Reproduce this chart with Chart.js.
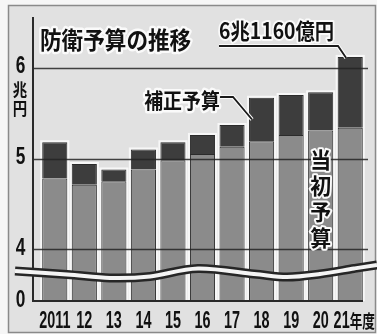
<!DOCTYPE html>
<html>
<head>
<meta charset="utf-8">
<script src="https://cdn.jsdelivr.net/npm/chart.js@4/dist/chart.umd.min.js"></script>
<style>
  html, body { margin: 0; padding: 0; background: #fff; }
  canvas { display: block; }
</style>
</head>
<body>
<canvas id="chart" width="377" height="334"></canvas>
<script>
// 防衛予算の推移 (兆円)
const years = ['2011', '12', '13', '14', '15', '16', '17', '18', '19', '20', '21年度'];
const initialBudget = [4.78, 4.71, 4.75, 4.88, 4.98, 5.05, 5.13, 5.19, 5.26, 5.31, 5.34];
const supplementaryBudget = [0.40, 0.23, 0.13, 0.22, 0.20, 0.21, 0.24, 0.48, 0.44, 0.42, 0.78];
const yTickValues = [4, 5, 6];
const yBreakLabel = '0';
const totalLabel = '6兆1160億円';

const yMin = 3.43, yMax = 6.56;
const CJK = "'Noto Sans CJK JP', sans-serif";
const NUM = "'Liberation Sans', Arial, sans-serif";

function haloText(ctx, text, x, y, font, sx, align, halo) {
  ctx.save();
  ctx.translate(x, y);
  ctx.scale(sx, 1);
  ctx.font = font;
  ctx.textAlign = align;
  ctx.textBaseline = 'middle';
  ctx.lineJoin = 'round';
  if (halo) {
    ctx.strokeStyle = '#fafafa';
    ctx.lineWidth = halo;
    ctx.strokeText(text, 0, 0);
  }
  ctx.fillStyle = '#111';
  ctx.fillText(text, 0, 0);
  ctx.restore();
}

// 波線 (省略記号)
function wave(ctx, pts) {
  ctx.beginPath();
  ctx.moveTo(pts[0][0], pts[0][1]);
  for (let i = 0; i < pts.length - 1; i++) {
    const p0 = pts[Math.max(i - 1, 0)], p1 = pts[i], p2 = pts[i + 1], p3 = pts[Math.min(i + 2, pts.length - 1)];
    ctx.bezierCurveTo(p1[0] + (p2[0] - p0[0]) / 6, p1[1] + (p2[1] - p0[1]) / 6,
                      p2[0] - (p3[0] - p1[0]) / 6, p2[1] - (p3[1] - p1[1]) / 6, p2[0], p2[1]);
  }
}

const decor = {
  id: 'decor',
  beforeDraw(chart) {
    const ctx = chart.ctx;
    ctx.save();
    ctx.fillStyle = '#f6f6f6';
    ctx.fillRect(0, 0, chart.width, chart.height);
    ctx.fillStyle = '#e1e1e1';
    ctx.fillRect(8, 5, 368, 328);
    ctx.strokeStyle = '#8a8a8a';
    ctx.lineWidth = 1.5;
    ctx.strokeRect(8.5, 5.5, 367, 327);
    ctx.restore();
  },
  beforeDatasetsDraw(chart) {
    // 棒の白いふち
    const ctx = chart.ctx, area = chart.chartArea;
    const base = chart.getDatasetMeta(0).data, top = chart.getDatasetMeta(1).data;
    ctx.save();
    ctx.fillStyle = '#f7f7f7';
    base.forEach((el, i) => {
      const t = top[i];
      ctx.fillRect(el.x - el.width / 2 - 2, t.y - 2, el.width + 4, area.bottom - t.y + 2);
    });
    ctx.restore();
  },
  afterDatasetsDraw(chart) {
    const ctx = chart.ctx, area = chart.chartArea;
    const y = chart.scales.y, x = chart.scales.x;
    const axisX = 33;
    ctx.save();
    // 目盛線
    ctx.strokeStyle = 'rgba(35,35,35,0.85)';
    ctx.lineWidth = 1.5;
    yTickValues.forEach(v => {
      const py = Math.round(y.getPixelForValue(v)) + 0.5;
      ctx.beginPath();
      ctx.moveTo(axisX, py);
      ctx.lineTo(368, py);
      ctx.stroke();
    });
    // 軸
    ctx.strokeStyle = '#2a2a2a';
    ctx.lineWidth = 2;
    ctx.beginPath();
    ctx.moveTo(axisX, area.top);
    ctx.lineTo(axisX, area.bottom);
    ctx.lineTo(363, area.bottom);
    ctx.stroke();
    // 波線
    const pts = [[15, 271], [67, 274.5], [110, 278], [150, 276.5], [198, 268.5], [254, 274],
                 [287, 277], [320, 274], [354, 268.5], [377, 265]];
    ctx.lineCap = 'butt';
    wave(ctx, pts);
    ctx.strokeStyle = '#262626';
    ctx.lineWidth = 9;
    ctx.stroke();
    wave(ctx, pts);
    ctx.strokeStyle = '#f4f4f4';
    ctx.lineWidth = 4;
    ctx.stroke();
    ctx.restore();

    // y軸ラベル
    [yMin].concat(yTickValues).forEach(v => {
      const py = y.getPixelForValue(v) - 1;
      haloText(ctx, v === yMin ? yBreakLabel : String(v), 20.5, py, 'bold 24px ' + NUM, 0.72, 'center', 0);
    });

    // x軸ラベル
    years.forEach((lab, i) => {
      const px = x.getPixelForValue(i);
      const m = lab.match(/^(\d+)(.*)$/);
      const digits = m[1], suffix = m[2];
      const dsx = 0.6, ssx = 0.7;
      ctx.save();
      ctx.font = 'bold 24px ' + NUM;
      const dW = ctx.measureText(digits).width * dsx;
      ctx.font = 'bold 18px ' + CJK;
      const sW = suffix ? ctx.measureText(suffix).width * ssx : 0;
      ctx.restore();
      const x0 = px - (dW + sW) / 2 + (suffix ? 4 : 0);
      haloText(ctx, digits, x0, 321, 'bold 24px ' + NUM, dsx, 'left', 0);
      if (suffix) haloText(ctx, suffix, x0 + dW, 321, 'bold 18px ' + CJK, ssx, 'left', 0);
    });

    // 単位
    haloText(ctx, '兆', 20, 90, 'bold 17px ' + CJK, 0.85, 'center', 0);
    haloText(ctx, '円', 20, 108.5, 'bold 17px ' + CJK, 0.85, 'center', 0);

    // タイトル
    haloText(ctx, '防衛予算の推移', 40, 39.5, 'bold 24px ' + CJK, 0.9, 'left', 5);

    const supp = chart.getDatasetMeta(1).data;
    const init = chart.getDatasetMeta(0).data;
    const last = supp[supp.length - 1];

    // 6兆1160億円
    ctx.save();
    ctx.strokeStyle = '#fafafa';
    ctx.lineWidth = 4;
    ctx.beginPath();
    ctx.moveTo(219, 46); ctx.lineTo(338, 46); ctx.lineTo(last.x - 4, last.y + 1);
    ctx.stroke();
    ctx.strokeStyle = '#1a1a1a';
    ctx.lineWidth = 1.8;
    ctx.stroke();
    ctx.restore();
    haloText(ctx, totalLabel, 219, 31, 'bold 22px ' + CJK, 0.88, 'left', 4);

    // 補正予算
    const b18 = supp[7];
    ctx.save();
    ctx.strokeStyle = '#fafafa';
    ctx.lineWidth = 4;
    ctx.beginPath();
    ctx.moveTo(220, 97); ctx.lineTo(233, 97);
    ctx.lineTo(b18.x - b18.width / 2 + 3, (b18.y + b18.base) / 2);
    ctx.stroke();
    ctx.strokeStyle = '#1a1a1a';
    ctx.lineWidth = 1.8;
    ctx.stroke();
    ctx.restore();
    haloText(ctx, '補正予算', 182, 100, 'bold 21px ' + CJK, 0.9, 'center', 5);

    // 当初予算 (縦書き)
    const b20 = init[9];
    ['当', '初', '予', '算'].forEach((ch, k) => {
      haloText(ctx, ch, b20.x, 160 + k * 26, 'bold 22px ' + CJK, 0.95, 'center', 4);
    });
  }
};

new Chart(document.getElementById('chart'), {
  type: 'bar',
  data: {
    labels: years,
    datasets: [{
      label: '当初予算',
      data: initialBudget,
      backgroundColor: '#8b8b8b',
      borderColor: '#2b2b2b',
      borderWidth: 1,
      barPercentage: 0.85,
      categoryPercentage: 1
    }, {
      label: '補正予算',
      data: supplementaryBudget,
      backgroundColor: '#3d3d3d',
      borderColor: '#2b2b2b',
      borderWidth: 1,
      barPercentage: 0.85,
      categoryPercentage: 1
    }]
  },
  options: {
    responsive: false,
    animation: false,
    devicePixelRatio: 1,
    layout: { padding: { top: 17, right: 12, bottom: 0, left: 0 } },
    plugins: { legend: { display: false }, tooltip: { enabled: false } },
    scales: {
      x: {
        stacked: true,
        offset: true,
        grid: { display: false },
        border: { display: false },
        ticks: { display: false },
        afterFit: s => { s.height = 33; }
      },
      y: {
        stacked: true,
        min: yMin,
        max: yMax,
        grid: { display: false },
        border: { display: false },
        ticks: { display: false },
        afterFit: s => { s.width = 40; }
      }
    }
  },
  plugins: [decor]
});
</script>
</body>
</html>
